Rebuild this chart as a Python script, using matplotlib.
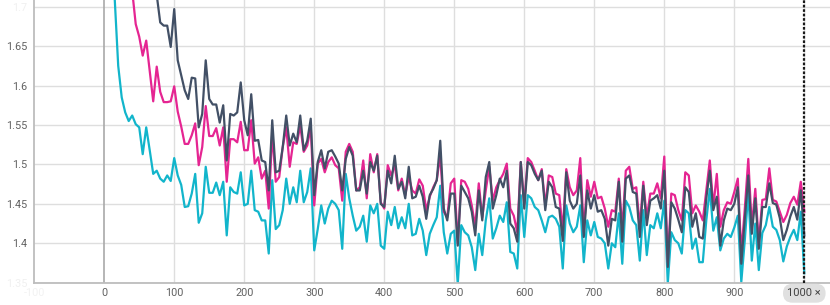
import matplotlib
matplotlib.use("Agg")
import matplotlib.pyplot as plt

plt.rcParams['font.family'] = ['Roboto', 'DejaVu Sans']

steps = list(range(5, 1001, 5))

series_teal = [
    1.86, 1.77, 1.71, 1.625, 1.585, 1.566, 1.555, 1.562, 1.551, 1.547,
    1.513, 1.547, 1.518, 1.488, 1.492, 1.482, 1.478, 1.486, 1.479, 1.508,
    1.486, 1.474, 1.446, 1.447, 1.463, 1.488, 1.426, 1.438, 1.497, 1.464,
    1.464, 1.477, 1.461, 1.478, 1.410, 1.471, 1.465, 1.463, 1.490, 1.448,
    1.450, 1.492, 1.442, 1.440, 1.429, 1.429, 1.387, 1.480, 1.418, 1.423,
    1.442, 1.482, 1.450, 1.471, 1.452, 1.492, 1.452, 1.465, 1.495, 1.391,
    1.418, 1.448, 1.425, 1.444, 1.454, 1.450, 1.442, 1.393, 1.488, 1.457,
    1.435, 1.416, 1.421, 1.435, 1.402, 1.448, 1.438, 1.450, 1.397, 1.393,
    1.440, 1.423, 1.446, 1.419, 1.433, 1.419, 1.450, 1.410, 1.412, 1.431,
    1.416, 1.385, 1.412, 1.423, 1.433, 1.473, 1.414, 1.387, 1.412, 1.416,
    1.348, 1.423, 1.414, 1.410, 1.395, 1.366, 1.412, 1.385, 1.429, 1.457,
    1.406, 1.419, 1.435, 1.427, 1.452, 1.389, 1.387, 1.368, 1.461, 1.408,
    1.461, 1.457, 1.446, 1.442, 1.429, 1.414, 1.433, 1.435, 1.431, 1.421,
    1.368, 1.448, 1.425, 1.414, 1.421, 1.448, 1.376, 1.429, 1.410, 1.427,
    1.408, 1.406, 1.400, 1.368, 1.400, 1.395, 1.438, 1.374, 1.454, 1.446,
    1.429, 1.423, 1.378, 1.442, 1.385, 1.423, 1.419, 1.438, 1.419, 1.454,
    1.349, 1.414, 1.404, 1.400, 1.387, 1.442, 1.438, 1.393, 1.406, 1.376,
    1.376, 1.429, 1.469, 1.416, 1.433, 1.391, 1.406, 1.412, 1.408, 1.420,
    1.435, 1.351, 1.404, 1.465, 1.378, 1.425, 1.366, 1.413, 1.423, 1.446,
    1.421, 1.417, 1.404, 1.377, 1.396, 1.408, 1.417, 1.404, 1.440, 1.362,
]

series_pink = [
    2.00, 1.95, 1.90, 1.86, 1.82, 1.79, 1.76, 1.72, 1.678, 1.662,
    1.638, 1.657, 1.618, 1.580, 1.624, 1.592, 1.579, 1.579, 1.580, 1.599,
    1.567, 1.548, 1.526, 1.526, 1.537, 1.552, 1.499, 1.522, 1.574, 1.536,
    1.536, 1.546, 1.524, 1.547, 1.478, 1.532, 1.532, 1.528, 1.554, 1.518,
    1.518, 1.556, 1.501, 1.509, 1.482, 1.492, 1.444, 1.541, 1.478, 1.484,
    1.522, 1.547, 1.497, 1.528, 1.526, 1.549, 1.516, 1.524, 1.547, 1.448,
    1.501, 1.507, 1.490, 1.503, 1.509, 1.499, 1.495, 1.454, 1.516, 1.526,
    1.516, 1.467, 1.471, 1.505, 1.457, 1.513, 1.490, 1.513, 1.452, 1.444,
    1.499, 1.486, 1.499, 1.467, 1.482, 1.461, 1.484, 1.467, 1.463, 1.481,
    1.473, 1.442, 1.459, 1.471, 1.480, 1.512, 1.440, 1.433, 1.476, 1.482,
    1.400, 1.480, 1.478, 1.469, 1.448, 1.421, 1.476, 1.433, 1.467, 1.497,
    1.454, 1.471, 1.480, 1.488, 1.501, 1.444, 1.435, 1.414, 1.503, 1.450,
    1.508, 1.503, 1.492, 1.480, 1.494, 1.448, 1.486, 1.484, 1.463, 1.461,
    1.416, 1.494, 1.471, 1.461, 1.467, 1.508, 1.414, 1.480, 1.459, 1.478,
    1.457, 1.459, 1.444, 1.421, 1.442, 1.440, 1.482, 1.416, 1.492, 1.497,
    1.469, 1.471, 1.421, 1.478, 1.433, 1.463, 1.463, 1.476, 1.457, 1.510,
    1.376, 1.463, 1.461, 1.442, 1.429, 1.490, 1.486, 1.438, 1.448, 1.440,
    1.429, 1.467, 1.505, 1.446, 1.488, 1.421, 1.442, 1.452, 1.450, 1.465,
    1.482, 1.387, 1.444, 1.507, 1.421, 1.469, 1.400, 1.455, 1.456, 1.495,
    1.455, 1.453, 1.440, 1.427, 1.436, 1.451, 1.459, 1.449, 1.478, 1.440,
]

series_dark = [
    2.10, 2.05, 2.00, 1.96, 1.92, 1.89, 1.86, 1.83, 1.80, 1.78,
    1.77, 1.76, 1.75, 1.74, 1.715, 1.680, 1.676, 1.676, 1.649, 1.697,
    1.632, 1.613, 1.594, 1.583, 1.610, 1.609, 1.547, 1.564, 1.632, 1.583,
    1.576, 1.576, 1.553, 1.575, 1.505, 1.564, 1.562, 1.566, 1.604, 1.556,
    1.537, 1.589, 1.530, 1.531, 1.505, 1.503, 1.467, 1.556, 1.490, 1.492,
    1.522, 1.562, 1.524, 1.539, 1.528, 1.562, 1.518, 1.530, 1.558, 1.461,
    1.503, 1.518, 1.495, 1.516, 1.518, 1.510, 1.501, 1.467, 1.507, 1.522,
    1.511, 1.467, 1.467, 1.492, 1.463, 1.503, 1.492, 1.511, 1.450, 1.446,
    1.492, 1.476, 1.511, 1.469, 1.478, 1.457, 1.497, 1.457, 1.459, 1.473,
    1.459, 1.431, 1.461, 1.469, 1.480, 1.530, 1.444, 1.429, 1.463, 1.463,
    1.397, 1.473, 1.465, 1.457, 1.440, 1.410, 1.467, 1.429, 1.484, 1.503,
    1.444, 1.461, 1.482, 1.471, 1.492, 1.425, 1.419, 1.402, 1.503, 1.444,
    1.503, 1.499, 1.488, 1.480, 1.492, 1.442, 1.478, 1.471, 1.446, 1.444,
    1.403, 1.490, 1.454, 1.444, 1.450, 1.486, 1.408, 1.467, 1.444, 1.461,
    1.440, 1.442, 1.431, 1.397, 1.431, 1.429, 1.478, 1.402, 1.482, 1.486,
    1.465, 1.463, 1.408, 1.473, 1.423, 1.454, 1.457, 1.461, 1.444, 1.492,
    1.370, 1.452, 1.444, 1.430, 1.414, 1.471, 1.465, 1.421, 1.438, 1.408,
    1.406, 1.457, 1.492, 1.442, 1.459, 1.397, 1.429, 1.444, 1.442, 1.450,
    1.471, 1.374, 1.431, 1.486, 1.412, 1.457, 1.393, 1.446, 1.446, 1.476,
    1.451, 1.449, 1.432, 1.404, 1.417, 1.434, 1.446, 1.430, 1.467, 1.410,
]

x_ticks = [-100, 0, 100, 200, 300, 400, 500, 600, 700, 800, 900]
y_ticks = [1.35, 1.4, 1.45, 1.5, 1.55, 1.6, 1.65, 1.7]
y_tick_labels = ['1.35', '1.4', '1.45', '1.5', '1.55', '1.6', '1.65', '1.7']
marker_step = 1000

W, H = 830, 305
fig = plt.figure(figsize=(W / 100, H / 100), dpi=100)
fig.patch.set_facecolor('white')
ax = fig.add_axes([33.5 / W, (H - 282.7) / H, (W - 33.5) / W, 282.7 / H])

ax.set_xlim(-101, 1036.7)
ax.set_ylim(1.35, 1.7085)

grid_c = '#dedede'
for yv in y_ticks:
    ax.axhline(yv, color=grid_c, lw=1.0, zorder=0)
for xv in x_ticks[2:] + [marker_step]:
    ax.axvline(xv, color=grid_c, lw=1.0, zorder=0)
ax.axvline(0, color='#a9a9a9', lw=1.2, zorder=0.5)

ax.plot(steps, series_teal, color='#12b5cb', lw=1.6, solid_joinstyle='round', zorder=2)
ax.plot(steps, series_pink, color='#e52592', lw=1.6, solid_joinstyle='round', zorder=3)
ax.plot(steps, series_dark, color='#425066', lw=1.6, solid_joinstyle='round', zorder=4)

ax.axvline(marker_step, color='#1a1a1a', lw=1.6, linestyle=(0, (1.2, 0.8)), zorder=6)

for side in ['top', 'right']:
    ax.spines[side].set_visible(False)
for side in ['left', 'bottom']:
    ax.spines[side].set_color('#bdbdbd')
    ax.spines[side].set_linewidth(1.3)

ax.set_yticks(y_ticks)
ax.set_yticklabels(y_tick_labels)
ax.set_xticks(x_ticks)
ax.set_xticklabels([str(v) for v in x_ticks])
ax.tick_params(axis='both', length=0, labelsize=7.8, labelcolor='#616161')
ax.tick_params(axis='y', pad=4.5)
ax.tick_params(axis='x', pad=4)

for lbl in ax.get_yticklabels():
    if lbl.get_text() in ('1.35', '1.7'):
        lbl.set_color('#f0f0f0')
for lbl in ax.get_xticklabels():
    if lbl.get_text() == '-100':
        lbl.set_color('#f2f2f2')

ax.annotate(f'{marker_step} \u00d7', xy=(marker_step, 0), xycoords=('data', 'axes fraction'),
            xytext=(0, -7.6), textcoords='offset points', ha='center', va='center',
            fontsize=8, color='#424242', annotation_clip=False,
            bbox=dict(boxstyle='round,pad=0.4,rounding_size=0.85', fc='#e0e0e0', ec='none'))

fig.savefig('out.png', dpi=100, facecolor='white')
